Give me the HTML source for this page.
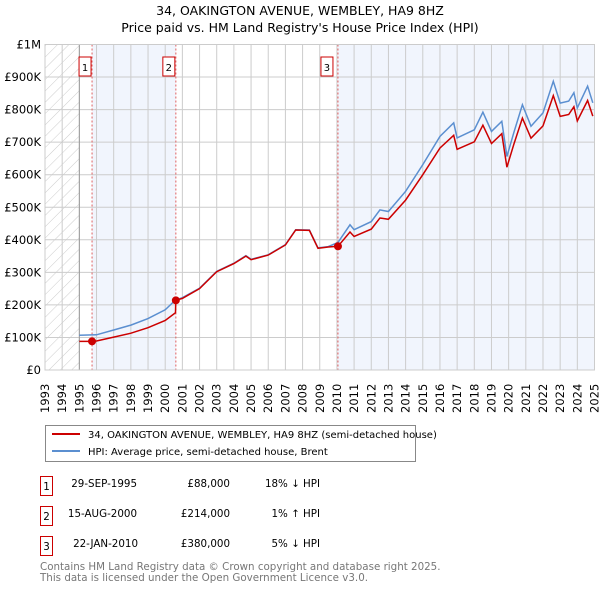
<!DOCTYPE html>
<html><head><meta charset="utf-8"><style>
body{margin:0;background:#fff;font-family:"DejaVu Sans","Liberation Sans",sans-serif;}
svg text{font-family:"DejaVu Sans","Liberation Sans",sans-serif;}
</style></head><body>
<svg id="c" width="600" height="590" xmlns="http://www.w3.org/2000/svg">
<defs><pattern id="hatch" width="8" height="8" patternUnits="userSpaceOnUse" patternTransform="rotate(45)"><line x1="0" y1="0" x2="0" y2="8" stroke="#ccc" stroke-width="1"/></pattern></defs>
<text x="300" y="15" text-anchor="middle" font-size="12.5">34, OAKINGTON AVENUE, WEMBLEY, HA9 8HZ</text>
<text x="300" y="32" text-anchor="middle" font-size="12.5">Price paid vs. HM Land Registry's House Price Index (HPI)</text>
<g id="plot"></g>
<g>
<rect x="45.5" y="425.5" width="370" height="36" fill="#fff" stroke="#888"/>
<line x1="52" y1="434" x2="80" y2="434" stroke="#cc0000" stroke-width="2"/>
<text x="88" y="438" font-size="10">34, OAKINGTON AVENUE, WEMBLEY, HA9 8HZ (semi-detached house)</text>
<line x1="52" y1="451" x2="80" y2="451" stroke="#5b8fd0" stroke-width="2"/>
<text x="88" y="455" font-size="10">HPI: Average price, semi-detached house, Brent</text>
</g>
<g font-size="10.3">
<rect x="40.5" y="476.5" width="12" height="19" fill="#fff" stroke="#c00"/><text x="46.5" y="490" text-anchor="middle">1</text>
<text x="137" y="487" text-anchor="end">29-SEP-1995</text><text x="230" y="487" text-anchor="end">£88,000</text><text x="320" y="487" text-anchor="end">18% ↓ HPI</text>
<rect x="40.5" y="506.5" width="12" height="19" fill="#fff" stroke="#c00"/><text x="46.5" y="520" text-anchor="middle">2</text>
<text x="137" y="517" text-anchor="end">15-AUG-2000</text><text x="230" y="517" text-anchor="end">£214,000</text><text x="320" y="517" text-anchor="end">1% ↑ HPI</text>
<rect x="40.5" y="536.5" width="12" height="19" fill="#fff" stroke="#c00"/><text x="46.5" y="550" text-anchor="middle">3</text>
<text x="138" y="547" text-anchor="end">22-JAN-2010</text><text x="230" y="547" text-anchor="end">£380,000</text><text x="320" y="547" text-anchor="end">5% ↓ HPI</text>
</g>
<text x="40" y="570" font-size="10.3" fill="#777">Contains HM Land Registry data © Crown copyright and database right 2025.</text>
<text x="40" y="581" font-size="10.3" fill="#777">This data is licensed under the Open Government Licence v3.0.</text>
</svg>
<script>
const yTicks=[0,100,200,300,400,500,600,700,800,900,1000];
const yTickLabels=["£0","£100K","£200K","£300K","£400K","£500K","£600K","£700K","£800K","£900K","£1M"];
const years=[1993,1994,1995,1996,1997,1998,1999,2000,2001,2002,2003,2004,2005,2006,2007,2008,2009,2010,2011,2012,2013,2014,2015,2016,2017,2018,2019,2020,2021,2022,2023,2024,2025];
const hpiT=[1995,1996,1997,1998,1999,2000,2000.6,2001,2002,2003,2004,2004.7,2005,2006,2007,2007.6,2008.4,2008.9,2009.5,2010.06,2010.76,2011,2012,2012.5,2013,2014,2015,2016,2016.8,2017,2018,2018.5,2019,2019.6,2019.9,2020.3,2020.8,2021.3,2022,2022.6,2023,2023.5,2023.8,2024,2024.6,2024.9];
const hpiV=[107,108,123,138,158,185,215,222,251,303,328,351,340,354,385,431,430,375,379,392,446,431,456,492,487,549,631,718,759,713,738,792,733,764,656,729,815,749,790,887,820,826,852,805,872,821];
const ppT=[1995,1995.74,1996,1997,1998,1999,2000,2000.6,2000.62,2001,2002,2003,2004,2004.7,2005,2006,2007,2007.6,2008.4,2008.9,2009.5,2010.06,2010.76,2011,2012,2012.5,2013,2014,2015,2016,2016.8,2017,2018,2018.5,2019,2019.6,2019.9,2020.3,2020.8,2021.3,2022,2022.6,2023,2023.5,2023.8,2024,2024.6,2024.9];
const ppV=[88,88,89,101,113,130,152,176,214,220,250,302,327,350,339,353,384,430,429,374,378,380,424,410,433,467,463,522,600,682,721,678,701,752,696,726,623,693,774,712,750,843,779,785,809,765,828,780];
const sales=[{n:"1",t:1995.74,v:88},{n:"2",t:2000.62,v:214},{n:"3",t:2010.06,v:380}];
const NS="http://www.w3.org/2000/svg",g=document.getElementById('plot');
const L=45,R=594.5,T=44.5,B=370;
const x=t=>L+(t-1993)/(2025-1993)*(R-L);
const y=v=>B-v/1000*(B-T);
function mk(tag,a){const e=document.createElementNS(NS,tag);for(const k in a)e.setAttribute(k,a[k]);g.appendChild(e);return e;}
let e;
e=mk('rect',{x:x(1993),y:T,width:x(1995)-x(1993),height:B-T,fill:'url(#hatch)'});


e=mk('rect',{x:x(1995.74),y:T,width:x(2000.62)-x(1995.74),height:B-T,fill:'#eef3fc',opacity:0.8});


e=mk('rect',{x:x(2010.06),y:T,width:R-x(2010.06),height:B-T,fill:'#eef3fc',opacity:0.8});


years.forEach(yr=>{e=mk('line',{x1:x(yr),x2:x(yr),y1:T,y2:B,stroke:'#ccc'});


const tx=mk('text',{x:0,y:0,'font-size':11.5,transform:`translate(${x(yr)+4},413) rotate(-90)`});tx.textContent=yr;

});
yTicks.forEach((v,i)=>{e=mk('line',{x1:L,x2:R,y1:y(v),y2:y(v),stroke:'#ccc'});


const tx=mk('text',{x:41,y:y(v)+4,'font-size':11.5,'text-anchor':'end'});tx.textContent=yTickLabels[i];

});
e=mk('line',{x1:x(1995),x2:x(1995),y1:T,y2:B,stroke:'#999'});


sales.forEach(s=>{e=mk('line',{x1:x(s.t),x2:x(s.t),y1:T,y2:B,stroke:'#e06060','stroke-dasharray':'2,2'});

});
const path=(ts,vs)=>ts.map((t,i)=>(i?'L':'M')+x(t).toFixed(1)+','+y(vs[i]).toFixed(1)).join('');
e=mk('path',{d:path(hpiT,hpiV),fill:'none',stroke:'#5b8fd0','stroke-width':1.5});


e=mk('path',{d:path(ppT,ppV),fill:'none',stroke:'#cc0000','stroke-width':1.5});


sales.forEach(s=>{e=mk('circle',{cx:x(s.t),cy:y(s.v),r:4,fill:'#cc0000'});


const bx=x(s.t)-(s.n==='3'?17:13);
e=mk('rect',{x:bx,y:57,width:12,height:19,fill:'#fff',stroke:'#c00'});


const tx=mk('text',{x:bx+6,y:71,'font-size':10,'text-anchor':'middle'});tx.textContent=s.n;

});
e=mk('rect',{x:L,y:T,width:R-L,height:B-T,fill:'none',stroke:'#ccc'});


</script>
</body></html>
